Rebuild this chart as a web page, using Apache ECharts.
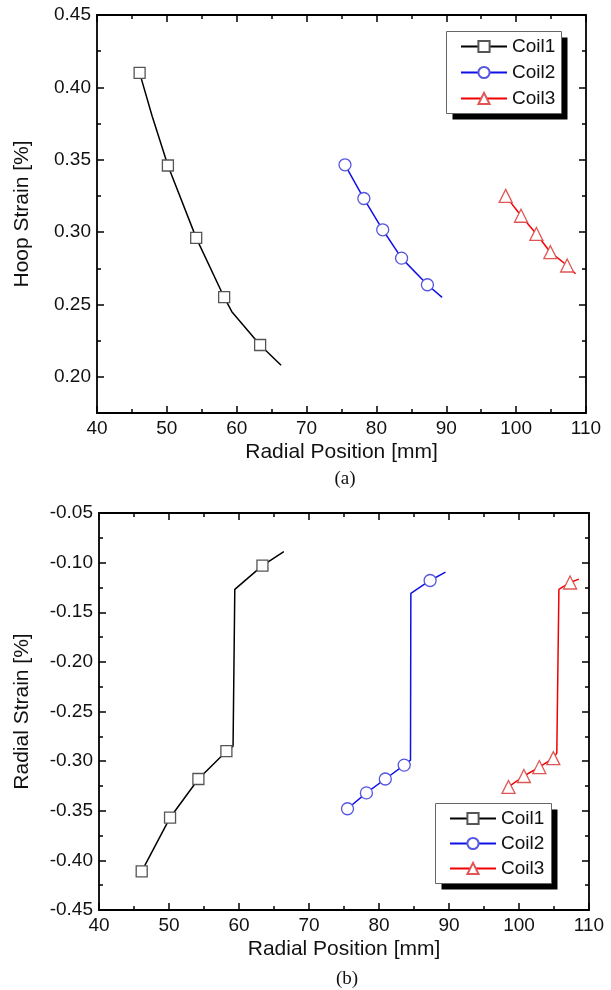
<!DOCTYPE html>
<html><head><meta charset="utf-8">
<script src="https://cdn.jsdelivr.net/npm/echarts@6/dist/echarts.min.js"></script>
<style>html,body{margin:0;padding:0;background:#fff}#c{width:611px;height:990px}</style>
</head><body><div id="c"></div>
<script>
// ---- names & ticks ----
const seriesNames = ['Coil1', 'Coil2', 'Coil3'];
const xTickValues = [40, 50, 60, 70, 80, 90, 100, 110];
const hoopTickValues = [0.20, 0.25, 0.30, 0.35, 0.40, 0.45];
const hoopMinorTickValues = [0.175, 0.225, 0.275, 0.325, 0.375, 0.425];
const radialTickValues = [-0.45, -0.40, -0.35, -0.30, -0.25, -0.20, -0.15, -0.10, -0.05];

// ---- (a) Hoop strain: marker points and traced curves ----
const coil1HoopMarks = [[46.1, 0.410], [50.15, 0.346], [54.2, 0.296], [58.2, 0.255], [63.35, 0.222]];
const coil1HoopCurve = [[46.1, 0.410], [47.9, 0.380], [50.15, 0.346], [54.2, 0.296], [58.2, 0.255], [59.3, 0.245], [63.35, 0.222], [66.35, 0.208]];
const coil2HoopMarks = [[75.5, 0.3465], [78.2, 0.3232], [80.9, 0.3016], [83.6, 0.282], [87.3, 0.2636]];
const coil2HoopCurve = [[75.5, 0.3465], [78.2, 0.3232], [80.9, 0.3016], [83.6, 0.282], [87.3, 0.2636], [89.4, 0.2549]];
const coil3HoopMarks = [[98.5, 0.325], [100.7, 0.3113], [102.9, 0.2987], [104.9, 0.2861], [107.3, 0.2769]];
const coil3HoopCurve = [[98.5, 0.325], [100.7, 0.3113], [102.9, 0.2987], [104.9, 0.2861], [107.3, 0.2769], [108.5, 0.2712]];

// ---- (b) Radial strain: marker points and traced curves ----
const coil1RadMarks = [[46.1, -0.411], [50.15, -0.357], [54.2, -0.318], [58.2, -0.290], [63.35, -0.103]];
const coil1RadCurve = [[46.1, -0.411], [50.15, -0.357], [54.2, -0.318], [58.2, -0.290], [59.15, -0.285], [59.4, -0.127], [63.35, -0.103], [66.4, -0.089]];
const coil2RadMarks = [[75.5, -0.348], [78.2, -0.332], [80.9, -0.318], [83.6, -0.304], [87.3, -0.118]];
const coil2RadCurve = [[75.5, -0.348], [78.2, -0.332], [80.9, -0.318], [83.6, -0.304], [84.5, -0.299], [84.55, -0.131], [87.3, -0.118], [89.5, -0.1095]];
const coil3RadMarks = [[98.5, -0.326], [100.7, -0.315], [102.9, -0.306], [104.9, -0.297], [107.3, -0.120]];
const coil3RadCurve = [[98.5, -0.326], [100.7, -0.315], [102.9, -0.306], [104.9, -0.297], [105.4, -0.292], [105.7, -0.127], [107.3, -0.120], [108.55, -0.1166]];

// ---- styles ----
const FONT = 'Liberation Sans';
const styles = [
  { symbol: 'rect', size: 11, line: '#000000', mark: '#555555' },
  { symbol: 'circle', size: 12, line: '#1010e8', mark: '#5555e0' },
  { symbol: 'triangle', size: 13, line: '#f00000', mark: '#e05555' }
];

function buildData(curve, marks) {
  return curve.map(p => {
    const isMark = marks.some(q => q[0] === p[0] && q[1] === p[1]);
    return isMark ? { value: p } : { value: p, symbol: 'none' };
  });
}
function mkSeries(i, grid, yIdx, curve, marks) {
  const s = styles[i];
  return {
    type: 'line', name: seriesNames[i], xAxisIndex: grid * 2, yAxisIndex: yIdx,
    data: buildData(curve, marks), symbol: s.symbol, symbolSize: s.size,
    lineStyle: { color: s.line, width: 1.5 },
    itemStyle: { color: '#ffffff', borderColor: s.mark, borderWidth: 1.3 },
    emphasis: { disabled: true }, silent: true, z: 5
  };
}

const lineCol = { color: '#000', width: 1.8 };
const tickCol = { color: '#000', width: 1.5 };
const labelStyle = { fontSize: 19, color: '#111', fontFamily: FONT };
const nameStyle = { fontSize: 21, color: '#111', fontFamily: FONT };

function xAx(g, pos, withLabels) {
  return {
    type: 'value', gridIndex: g, position: pos, min: xTickValues[0], max: xTickValues[xTickValues.length - 1], interval: 10,
    axisLine: { show: true, onZero: false, lineStyle: lineCol },
    axisTick: { show: true, inside: true, length: 7, lineStyle: tickCol },
    minorTick: { show: true, splitNumber: 2, length: 4, lineStyle: tickCol },
    splitLine: { show: false }, minorSplitLine: { show: false },
    axisLabel: { show: withLabels, margin: 6, ...labelStyle },
    name: withLabels ? 'Radial Position [mm]' : '', nameLocation: 'middle', nameGap: 29, nameTextStyle: nameStyle
  };
}
function hoopAx(pos, values, len, withLine, withLabels) {
  return {
    type: 'value', gridIndex: 0, position: pos, min: 0.175, max: 0.45,
    axisLine: { show: withLine, onZero: false, lineStyle: lineCol },
    axisTick: { show: true, inside: true, length: len, customValues: values, lineStyle: tickCol },
    splitLine: { show: false },
    axisLabel: { show: withLabels, customValues: values, margin: 6, formatter: v => v.toFixed(2), ...labelStyle },
    name: withLabels ? 'Hoop Strain [%]' : '', nameLocation: 'middle', nameGap: 64, nameTextStyle: nameStyle
  };
}
function radAx(pos, withLabels) {
  return {
    type: 'value', gridIndex: 1, position: pos, min: radialTickValues[0], max: radialTickValues[radialTickValues.length - 1], interval: 0.05,
    axisLine: { show: true, onZero: false, lineStyle: lineCol },
    axisTick: { show: true, inside: true, length: 7, lineStyle: tickCol },
    minorTick: { show: true, splitNumber: 2, length: 4, lineStyle: tickCol },
    splitLine: { show: false }, minorSplitLine: { show: false },
    axisLabel: { show: withLabels, margin: 6, formatter: v => v.toFixed(2), ...labelStyle },
    name: withLabels ? 'Radial Strain [%]' : '', nameLocation: 'middle', nameGap: 66, nameTextStyle: nameStyle
  };
}
function legendAt(left, top, gap) {
  return {
    orient: 'vertical', left: left, top: top, data: seriesNames, selectedMode: false,
    itemWidth: 46, itemHeight: 14, itemGap: gap, padding: [6, 6, 6, 14],
    backgroundColor: 'transparent', borderWidth: 0,
    textStyle: { fontSize: 19, color: '#111', fontFamily: FONT }, z: 10
  };
}
// legend frame: drop-shadow block + white box with grey border
function legendFrame(x, y, w, h, off) {
  return [
    { type: 'rect', shape: { x: x + off, y: y + off, width: w, height: h }, style: { fill: '#000' }, z: 8, silent: true },
    { type: 'rect', shape: { x: x, y: y, width: w, height: h }, style: { fill: '#fff', stroke: '#666', lineWidth: 1 }, z: 9, silent: true }
  ];
}

const chart = echarts.init(document.getElementById('c'), null, { renderer: 'canvas' });
chart.setOption({
  animation: false,
  backgroundColor: '#fff',
  title: [
    { text: '(a)', left: 345, top: 470, textAlign: 'center', padding: 0, textStyle: { fontFamily: 'Liberation Serif', fontSize: 19, fontWeight: 'normal', color: '#111' } },
    { text: '(b)', left: 347, top: 970, textAlign: 'center', padding: 0, textStyle: { fontFamily: 'Liberation Serif', fontSize: 19, fontWeight: 'normal', color: '#111' } }
  ],
  graphic: [].concat(legendFrame(446.5, 31.5, 115, 82, 6), legendFrame(435.5, 803.5, 116, 80, 6)),
  grid: [
    { left: 97, top: 15, right: 25, height: 398 },
    { left: 99, top: 513, right: 22, height: 397 }
  ],
  xAxis: [xAx(0, 'bottom', true), xAx(0, 'top', false), xAx(1, 'bottom', true), xAx(1, 'top', false)],
  yAxis: [
    hoopAx('left', hoopTickValues, 7, true, true),
    hoopAx('left', hoopMinorTickValues, 4, false, false),
    hoopAx('right', hoopTickValues, 7, true, false),
    hoopAx('right', hoopMinorTickValues, 4, false, false),
    radAx('left', true),
    radAx('right', false)
  ],
  legend: [legendAt(446, 31, 7), legendAt(435, 803, 6)],
  series: [
    mkSeries(0, 0, 0, coil1HoopCurve, coil1HoopMarks),
    mkSeries(1, 0, 0, coil2HoopCurve, coil2HoopMarks),
    mkSeries(2, 0, 0, coil3HoopCurve, coil3HoopMarks),
    mkSeries(0, 1, 4, coil1RadCurve, coil1RadMarks),
    mkSeries(1, 1, 4, coil2RadCurve, coil2RadMarks),
    mkSeries(2, 1, 4, coil3RadCurve, coil3RadMarks)
  ]
});
</script></body></html>
